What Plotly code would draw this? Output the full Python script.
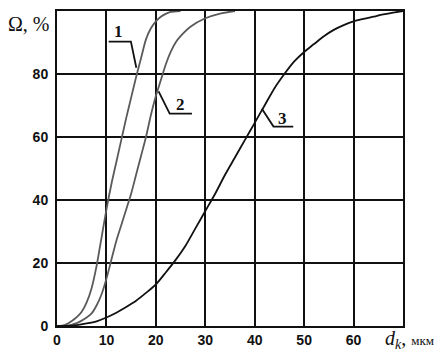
import plotly.graph_objects as go

# ---- data ----
curve1_x = [0, 1, 2, 3, 4, 5, 6, 7, 8, 9, 10, 11, 12, 13, 14, 15, 16, 17, 18, 19, 20, 21, 22, 23, 25]
curve1_y = [0, 0.1, 0.6, 1.6, 2.8, 4.5, 7.5, 12, 19, 28, 37, 45, 52, 59, 66, 72.5, 79, 85, 91, 94.5, 96.7, 98.2, 99.1, 99.7, 100]

curve2_x = [0, 2, 3, 4, 5, 6, 7, 8, 9, 10, 11, 12, 13, 14, 15, 16, 17, 18, 19, 20, 21, 22, 23, 24, 25, 27, 30, 33, 36]
curve2_y = [0, 0, 0.4, 0.9, 1.7, 2.7, 4, 6.5, 10, 15, 21, 27, 32, 37, 42, 48, 54, 60, 67, 73, 78, 83, 87, 90, 92, 95, 97.7, 99.2, 100]

curve3_x = [0, 2, 4, 6, 8, 10, 12, 14, 16, 18, 20, 22, 24, 26, 28, 30, 32, 34, 36, 38, 40, 42, 44, 46, 48, 50,
            52, 54, 56, 58, 60, 62, 64, 66, 68, 70]
curve3_y = [0, 0.05, 0.3, 0.8, 1.5, 2.7, 4.2, 6, 8, 10.5, 13.2, 17, 21, 25.5, 31, 36.5, 42, 48, 53.5, 59, 64.5, 70,
            75.5, 80, 84, 87, 89.5, 92, 94, 95.5, 96.7, 97.5, 98.2, 98.9, 99.5, 100]

curve_names = ["1", "2", "3"]
curve_colors = ["#5a5a5a", "#5a5a5a", "#111111"]

# label leader lines (data coordinates) and label text positions
leader_x = [[10.45, 14.95, 16.05], [20.55, 22.8, 27.3], [41.45, 43.8, 47.8]]
leader_y = [[90.3, 90.3, 82.0], [74.5, 67.4, 67.4], [69.0, 63.3, 63.3]]
label_x = [12.5, 24.9, 45.7]
label_y = [93.6, 70.2, 65.8]

x_ticks = [0, 10, 20, 30, 40, 50, 60]
y_ticks = [0, 20, 40, 60, 80]
x_range = [0, 70]
y_range = [0, 100]

y_title = "Ω, %"
x_title = "<i>d<sub>k</sub></i>, <span style='font-size:13px'>мкм</span>"

# ---- figure ----
fig = go.Figure()
for xs, ys, col in zip([curve1_x, curve2_x, curve3_x], [curve1_y, curve2_y, curve3_y], curve_colors):
    fig.add_trace(go.Scatter(x=xs, y=ys, mode="lines", line=dict(color=col, width=1.8, shape="spline", smoothing=0.8),
                             showlegend=False, hoverinfo="skip", cliponaxis=False))

for lx, ly in zip(leader_x, leader_y):
    fig.add_trace(go.Scatter(x=lx, y=ly, mode="lines", line=dict(color="#111111", width=1.8),
                             showlegend=False, hoverinfo="skip"))

serif = "Liberation Serif"
for name, tx, ty in zip(curve_names, label_x, label_y):
    fig.add_annotation(x=tx, y=ty, xref="x", yref="y", text=name, showarrow=False,
                       font=dict(family=serif, size=17, color="#111111", weight="bold"),
                       xanchor="center", yanchor="middle")

fig.add_annotation(x=-0.0138, y=0.959, xref="paper", yref="paper", text=y_title, showarrow=False,
                   font=dict(family=serif, size=20, color="#111111"), xanchor="right", yanchor="middle")
fig.add_annotation(x=0.9415, y=-0.043, xref="paper", yref="paper", text=x_title, showarrow=False,
                   font=dict(family=serif, size=20, color="#111111"), xanchor="left", yanchor="middle")

axis_common = dict(showgrid=True, gridcolor="#111111", gridwidth=2, showline=True, linecolor="#111111",
                   linewidth=2, mirror=True, zeroline=False, ticks="",
                   tickfont=dict(family="Liberation Sans", size=14, color="#111111", weight="bold"))
fig.update_xaxes(range=x_range, tickvals=x_ticks, ticktext=[str(v) for v in x_ticks], **axis_common)
fig.update_yaxes(range=y_range, tickvals=y_ticks, ticktext=[str(v) for v in y_ticks], ticklabelstandoff=4, **axis_common)

fig.update_layout(width=446, height=357, margin=dict(l=56.5, r=42.7, t=9, b=27.7),
                  paper_bgcolor="white", plot_bgcolor="white", showlegend=False)

fig.write_html("out.html")
